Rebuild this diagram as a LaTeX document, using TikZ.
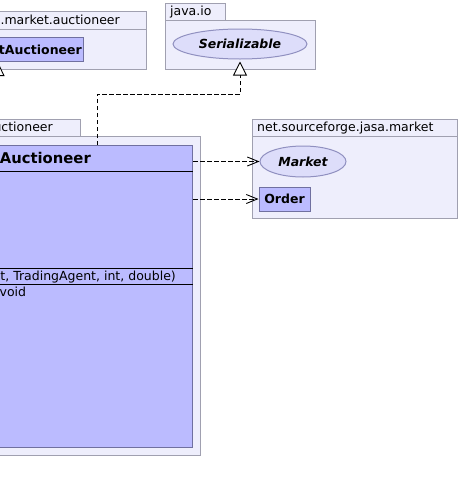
\documentclass[tikz,border=0pt]{standalone}
\usepackage{fontspec}
\setmainfont{DejaVu Sans}
\usetikzlibrary{arrows.meta,shapes.geometric}
\newcommand{\umltxt}{\fontsize{12.5}{15}\selectfont}
\newcommand{\umltitle}{\fontsize{14.8}{18}\selectfont\bfseries}
\definecolor{pkgfill}{RGB}{238,238,252}
\definecolor{pkgline}{RGB}{160,160,176}
\definecolor{clsfill}{RGB}{187,187,255}
\definecolor{clsline}{RGB}{112,112,160}
\definecolor{ifcfill}{RGB}{221,221,250}
\definecolor{ifcline}{RGB}{144,144,192}
\begin{document}
\begin{tikzpicture}[x=1pt,y=-1pt,
    pkg/.style={draw=pkgline,fill=pkgfill,line width=1pt,inner sep=0pt},
    cls/.style={draw=clsline,fill=clsfill,line width=1pt,inner sep=0pt,font=\umltxt\bfseries},
    ifc/.style={ellipse,draw=ifcline,fill=ifcfill,line width=1pt,inner sep=0pt,font=\umltxt\bfseries\itshape},
    lbl/.style={inner sep=0pt,font=\umltxt},
    dep/.style={line width=0.9pt,dash pattern=on 4.5pt off 2.5pt,-{Straight Barb[length=11pt,width=9pt]}},
    real/.style={line width=0.9pt,dash pattern=on 4.5pt off 2.5pt,-{Triangle[fill=white,length=14pt,width=14pt]}},
    gen/.style={line width=0.9pt,-{Triangle[fill=white,length=14pt,width=13pt]}}]
    \useasboundingbox (0,0) rectangle (460,493);
    \clip (0,0) rectangle (460,493);

    % 左上的包 (只露出一部分)
    \node[pkg,anchor=north east,minimum width=187pt,minimum height=18pt] (tabA) at (147,11) {};
    \node[pkg,anchor=north east,minimum width=187pt,minimum height=40pt] (pkgA) at (147,29) {};
    \node[lbl,anchor=base east] (nameA) at (120,24) {.market.auctioneer};
    \node[cls,anchor=north east,minimum width=124pt,minimum height=24pt] (tA) at (84,37) {};
    \node[lbl,anchor=base east,font=\umltxt\bfseries] (tAname) at (82,54) {tAuctioneer};

    % java.io 包
    \node[pkg,anchor=north west,minimum width=60pt,minimum height=17pt] (tabB) at (165,3) {};
    \node[pkg,anchor=north west,minimum width=150pt,minimum height=49pt] (pkgB) at (165,20) {};
    \node[lbl,anchor=base west] (nameB) at (170,15) {java.io};
    \node[ifc,minimum width=134pt,minimum height=30pt] (ser) at (240,44) {Serializable};

    % 中间的包和大类
    \node[pkg,anchor=north east,minimum width=121pt,minimum height=17pt] (tabC) at (81,119) {};
    \node[pkg,anchor=north east,minimum width=241pt,minimum height=319pt] (pkgC) at (201,136) {};
    \node[lbl,anchor=base east] (nameC) at (53,131.5) {uctioneer};
    \node[cls,anchor=north east,minimum width=233pt,minimum height=302pt] (auct) at (193,145) {};
    \node[lbl,anchor=base east,font=\umltitle] (auctname) at (91,163) {Auctioneer};
    % 分隔线
    \draw[line width=1pt] (auct.west |- 0,171) -- (auct.east |- 0,171);
    \draw[line width=1pt] (auct.west |- 0,268) -- (auct.east |- 0,268);
    \draw[line width=1pt] (auct.west |- 0,284) -- (auct.east |- 0,284);
    \node[lbl,anchor=base east] (op1) at (176,280.5) {t, TradingAgent, int, double)};
    \node[lbl,anchor=base west] (op2) at (-0.5,296.5) {void};

    % net.sourceforge.jasa.market 包
    \node[pkg,anchor=north west,minimum width=205pt,minimum height=17pt] (tabD) at (252,119) {};
    \node[pkg,anchor=north west,minimum width=205pt,minimum height=82pt] (pkgD) at (252,136) {};
    \node[lbl,anchor=base west] (nameD) at (257,131) {net.sourceforge.jasa.market};
    \node[ifc,minimum width=86pt,minimum height=31pt] (market) at (303,161.5) {Market};
    \node[cls,minimum width=51pt,minimum height=24pt] (order) at (284.5,199) {Order};

    % 连线
    \coordinate (rfoot) at (97,145);
    \coordinate (rbend) at (97,94);
    \draw[real,shorten >=2pt] (rfoot) |- (ser.south |- rbend) -- (ser.south);
    \draw[dep] (auct.east |- market) -- (market.west);
    \draw[dep] (auct.east |- order) -- (order.west);
    \coordinate (gfoot) at (-2,110);
    \draw[gen] (gfoot) -- (gfoot |- tA.south);
\end{tikzpicture}
\end{document}
